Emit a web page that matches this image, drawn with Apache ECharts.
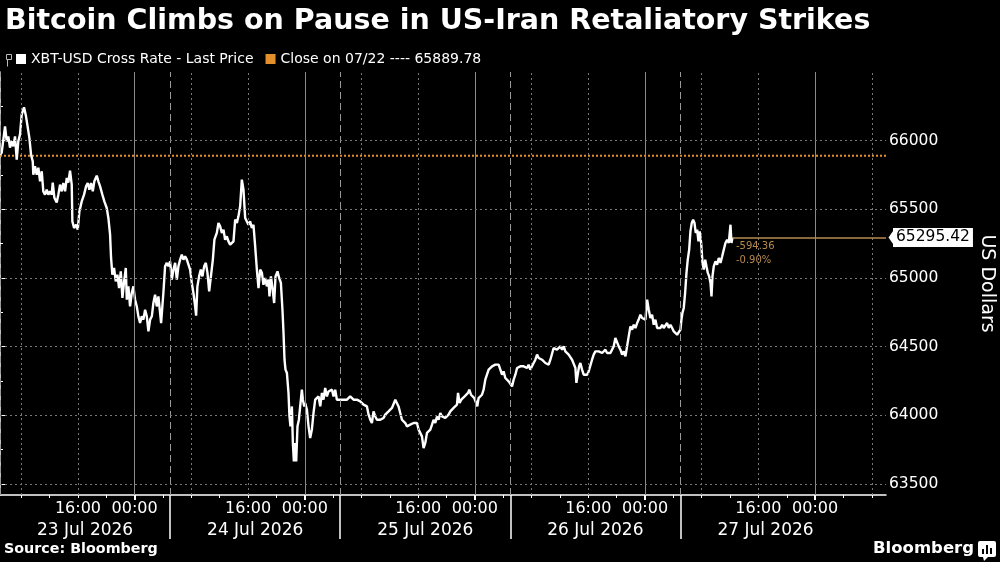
<!DOCTYPE html>
<html>
<head>
<meta charset="utf-8">
<script src="https://cdn.jsdelivr.net/npm/echarts@6/dist/echarts.min.js"></script>
<style>
  html, body { margin: 0; padding: 0; background: #000; }
  #chart { width: 1000px; height: 562px; }
</style>
</head>
<body>
<div id="chart"></div>
<script>
// hours since 23 Jul 05:00 (time labels)
const hours = [
  0, 0.24, 0.71, 0.95, 1.17, 1.41, 1.65, 1.88, 2.12, 2.36,
  2.58, 2.82, 3.06, 3.39, 3.67, 3.85, 4.14, 4.38, 4.62, 4.70,
  4.94, 5.18, 5.41, 5.65, 5.89, 6.11, 6.35, 6.59, 6.82, 7.06,
  7.30, 7.44, 7.67, 8.00, 8.23, 8.47, 8.71, 8.94, 9.18, 9.42,
  9.64, 9.88, 10.12, 10.21, 10.45, 10.73, 10.97, 11.20, 11.53, 11.86,
  12.14, 12.38, 12.61, 12.85, 13.09, 13.31, 13.65, 13.88, 14.12, 14.44,
  14.72, 15.06, 15.29, 15.53, 15.67, 15.85, 16.09, 16.33, 16.56, 16.80,
  17.04, 17.27, 17.51, 17.75, 17.89, 18.11, 18.35, 18.59, 18.82, 19.06,
  19.30, 19.52, 19.76, 20.00, 20.23, 20.47, 20.71, 20.94, 21.18, 21.42,
  21.64, 21.88, 22.12, 22.35, 22.59, 22.73, 23.05, 23.29, 23.53, 23.76,
  24.00, 24.24, 24.47, 24.71, 24.95, 25.17, 25.41, 25.65, 25.88, 26.12,
  26.36, 26.58, 26.82, 27.06, 27.29, 27.53, 27.67, 27.85, 28.09, 28.33,
  28.56, 28.80, 29.04, 29.27, 29.51, 29.79, 30.03, 30.25, 30.59, 30.82,
  31.06, 31.30, 31.53, 31.76, 32.00, 32.23, 32.47, 32.71, 32.94, 33.18,
  33.42, 33.64, 33.88, 34.12, 34.35, 34.59, 34.83, 35.05, 35.29, 35.53,
  35.76, 36.00, 36.24, 36.47, 36.71, 36.95, 37.17, 37.41, 37.65, 37.88,
  38.02, 38.22, 38.44, 38.68, 38.87, 39.15, 39.39, 39.63, 39.85, 40.00,
  40.14, 40.28, 40.48, 40.70, 40.84, 40.98, 41.18, 41.32, 41.46, 41.65,
  41.79, 41.97, 42.17, 42.35, 42.59, 42.73, 42.92, 43.06, 43.30, 43.53,
  43.76, 44.00, 44.23, 44.47, 44.71, 44.94, 45.18, 45.42, 45.64, 45.88,
  46.12, 46.35, 46.59, 46.83, 47.06, 47.29, 47.53, 47.76, 48.00, 48.24,
  48.47, 48.71, 48.95, 49.17, 49.41, 49.65, 49.88, 50.12, 50.36, 50.58,
  50.82, 51.06, 51.29, 51.53, 51.77, 52.00, 52.24, 52.47, 52.70, 52.94,
  53.18, 53.41, 53.65, 53.89, 54.11, 54.35, 54.59, 54.82, 55.06, 55.30,
  55.53, 55.77, 56.00, 56.23, 56.47, 56.71, 56.94, 57.18, 57.42, 57.64,
  57.88, 58.12, 58.35, 58.59, 58.83, 59.06, 59.29, 59.53, 59.76, 60.00,
  60.24, 60.47, 60.71, 60.95, 61.17, 61.41, 61.65, 61.88, 62.12, 62.36,
  62.58, 62.82, 63.06, 63.29, 63.53, 63.77, 64.00, 64.24, 64.47, 64.62,
  64.84, 65.08, 65.32, 65.55, 65.79, 66.03, 66.21, 66.45, 66.68, 66.92,
  67.16, 67.34, 67.52, 67.76, 68.00, 68.23, 68.47, 68.71, 68.94, 69.18,
  69.42, 69.64, 69.88, 70.12, 70.35, 70.59, 70.83, 71.05, 71.29, 71.53,
  71.76, 72.00, 72.24, 72.47, 72.71, 72.95, 73.17, 73.41, 73.65, 73.88,
  74.12, 74.36, 74.58, 74.82, 75.06, 75.29, 75.53, 75.77, 76.00, 76.24,
  76.47, 76.70, 76.94, 77.18, 77.41, 77.65, 77.89, 78.11, 78.35, 78.59,
  78.82, 79.06, 79.30, 79.53, 79.76, 80.00, 80.23, 80.47, 80.71, 80.94,
  81.18, 81.32, 81.50, 81.70, 81.88, 82.12, 82.35, 82.59, 82.83, 83.05,
  83.29, 83.53, 83.76, 84.00, 84.24, 84.47, 84.71, 84.95, 85.17, 85.41,
  85.65, 85.88, 86.12, 86.36, 86.58, 86.82, 87.06, 87.29, 87.53, 87.77,
  88.00, 88.24, 88.47, 88.70, 88.94, 89.18, 89.41, 89.65, 89.89, 90.11,
  90.35, 90.59, 90.82, 91.06, 91.30, 91.53, 91.76, 92.00, 92.23, 92.47,
  92.71, 92.94, 93.18, 93.42, 93.64, 93.88, 94.12, 94.35, 94.59, 94.83,
  95.06, 95.29, 95.53, 95.76, 96.00, 96.14, 96.28, 96.47, 96.66, 96.85,
  97.03, 97.23, 97.41, 97.60, 97.79, 97.98, 98.16, 98.36, 98.54, 98.72,
  98.92, 99.11, 99.29, 99.49, 99.67, 99.86, 100.05, 100.24, 100.38, 100.52,
  100.70, 100.94, 101.18, 101.41, 101.65, 101.89, 102.11, 102.35, 102.59, 102.82,
  103.06, 103.20, 103.34
];
const prices = [
  65898, 65913, 66104, 65995, 66031, 65949, 65995, 65959, 66031, 65862,
  65995, 66044, 66189, 66243, 66177, 66168, 66022, 65898, 65849, 65752,
  65813, 65752, 65803, 65704, 65777, 65631, 65607, 65643, 65607, 65631,
  65607, 65694, 65585, 65549, 65607, 65680, 65631, 65692, 65631, 65728,
  65694, 65782, 65680, 65412, 65364, 65388, 65352, 65485, 65558, 65607,
  65667, 65692, 65643, 65692, 65631, 65704, 65745, 65704, 65667, 65607,
  65558, 65510, 65437, 65316, 65146, 65024, 65073, 64975, 65024, 64927,
  65048, 64855, 64975, 65073, 64842, 64939, 64793, 64891, 64939, 64842,
  64793, 64721, 64672, 64721, 64697, 64769, 64721, 64611, 64697, 64721,
  64818, 64879, 64793, 64866, 64745, 64672, 64891, 65085, 65110, 65085,
  65121, 64988, 65061, 65110, 64988, 65085, 65134, 65170, 65134, 65158,
  65134, 65146, 65061, 64964, 64891, 64793, 64726, 64939, 65012, 65061,
  65012, 65085, 65110, 65037, 64903, 64915, 65134, 65279, 65328, 65401,
  65376, 65328, 65352, 65279, 65303, 65267, 65243, 65255, 65267, 65425,
  65401, 65449, 65522, 65716, 65643, 65437, 65449, 65388, 65412, 65364,
  65388, 65230, 65061, 64927, 65061, 65037, 64951, 65000, 64939, 64988,
  64866, 65012, 64927, 64818, 65012, 65048, 65000, 64964, 64769, 64600,
  64405, 64333, 64308, 64163, 63992, 63920, 64065, 63799, 63665, 63799,
  63665, 63920, 63968, 64065, 64187, 64114, 64065, 64090, 64041, 63920,
  63835, 63896, 64017, 64114, 64114, 64138, 64065, 64163, 64114, 64199,
  64138, 64174, 64163, 64187, 64138, 64187, 64114, 64126, 64114, 64102,
  64114, 64126, 64114, 64126, 64138, 64150, 64114, 64126, 64114, 64114,
  64102, 64090, 64078, 64090, 64065, 64005, 63968, 63944, 64029, 63992,
  63968, 63956, 63968, 63956, 63981, 64005, 63992, 64029, 64017, 64054,
  64041, 64114, 64102, 64065, 64017, 63968, 63981, 63944, 63920, 63908,
  63932, 63944, 63944, 63932, 63944, 63896, 63883, 63847, 63762, 63799,
  63872, 63859, 63896, 63932, 63968, 63944, 63992, 63968, 64017, 63992,
  64005, 63981, 63992, 64005, 64029, 64041, 64054, 64065, 64078, 64163,
  64090, 64114, 64102, 64138, 64150, 64163, 64187, 64150, 64138, 64126,
  64114, 64065, 64126, 64138, 64150, 64187, 64260, 64260, 64333, 64345,
  64357, 64345, 64369, 64357, 64369, 64333, 64296, 64320, 64272, 64284,
  64247, 64260, 64211, 64260, 64296, 64345, 64333, 64357, 64345, 64357,
  64369, 64345, 64369, 64333, 64357, 64381, 64405, 64442, 64418, 64429,
  64405, 64418, 64381, 64393, 64369, 64405, 64418, 64490, 64502, 64478,
  64490, 64502, 64478, 64502, 64466, 64454, 64442, 64429, 64405, 64393,
  64345, 64236, 64296, 64357, 64381, 64333, 64296, 64284, 64296, 64320,
  64333, 64405, 64442, 64466, 64478, 64466, 64478, 64454, 64466, 64478,
  64454, 64442, 64454, 64466, 64502, 64563, 64551, 64502, 64478, 64442,
  64466, 64429, 64502, 64575, 64648, 64624, 64660, 64636, 64672, 64697,
  64733, 64709, 64721, 64697, 64842, 64769, 64709, 64733, 64660, 64697,
  64636, 64648, 64636, 64660, 64636, 64648, 64672, 64636, 64660, 64636,
  64611, 64600, 64587, 64600, 64624, 64697, 64745, 64782, 64891, 65037,
  65134, 65206, 65340, 65401, 65425, 65401, 65328, 65352, 65267, 65340,
  65255, 65110, 65061, 65134, 65085, 65037, 65012, 64964, 64866, 65012,
  65085, 65121, 65097, 65146, 65110, 65158, 65206, 65255, 65279, 65255,
  65388, 65255, 65295.42
];

const seriesName = "XBT-USD Cross Rate - Last Price";
const closeDate = "07/22";
const closeValue = 65889.78;

const startClockHour = 5;
const dayStarts = [0, 24, 48, 72, 96];
const dayCenters = [12, 36, 60, 84, 108];
const dayLabels = ["23 Jul 2026", "24 Jul 2026", "25 Jul 2026", "26 Jul 2026", "27 Jul 2026"];
const timeLabelHours = [11, 19, 35, 43, 59, 67, 83, 91, 107, 115];
const midnightHours = [19, 43, 67, 91, 115];
const gridHours = [3, 11, 27, 35, 51, 59, 75, 83, 99, 107, 123];
const tickHours = [3, 7, 11, 15, 19, 23, 27, 31, 35, 39, 43, 47, 51, 55, 59, 63, 67, 71, 75, 79, 83, 87, 91, 95, 99, 103, 107, 111, 115, 119, 123];
const priceLevels = [63500, 64000, 64500, 65000, 65500, 66000];
const minorLevels = [63750, 64250, 64750, 65250, 65750, 66250];

const xMin = 0, xMax = 125;
const yMin = 63420, yMax = 66500;

const FONT = "DejaVu Sans";
const ORANGE = "#e3902c";
const TAN = "#b88a50";

const lastHour = hours[hours.length - 1];
const lastPrice = prices[prices.length - 1];
const change = lastPrice - closeValue;
const changePct = change / closeValue * 100;
const closeName = `Close on ${closeDate} ---- ${closeValue.toFixed(2)}`;

const chart = echarts.init(document.getElementById("chart"));

const gridLines = [];
gridHours.forEach((h) => gridLines.push({ xAxis: h, lineStyle: { color: "#777", type: [2, 3], width: 1 } }));
midnightHours.forEach((h) => gridLines.push({ xAxis: h, lineStyle: { color: "#8a8a8a", type: "solid", width: 1 } }));
dayStarts.forEach((h) => gridLines.push({ xAxis: h, lineStyle: { color: "#999", type: [7, 4], width: 1 } }));
priceLevels.forEach((v) => gridLines.push({ yAxis: v, lineStyle: { color: "#777", type: [2, 3], width: 1 } }));

const option = {
  backgroundColor: "#000",
  animation: false,
  textStyle: { fontFamily: FONT },
  title: {
    text: "Bitcoin Climbs on Pause in US-Iran Retaliatory Strikes",
    left: 0,
    top: 2,
    textStyle: { color: "#fff", fontSize: 28.5, fontWeight: "bold", fontFamily: FONT },
  },
  legend: {
    left: 16,
    top: 52,
    padding: 0,
    icon: "rect",
    itemWidth: 10,
    itemHeight: 10,
    itemGap: 12,
    textStyle: { color: "#fff", fontSize: 14, fontFamily: FONT },
    data: [
      { name: seriesName, itemStyle: { color: "#fff" } },
      { name: closeName, itemStyle: { color: ORANGE } },
    ],
  },
  grid: { left: 0, right: 114, top: 72, bottom: 67, outerBoundsMode: "none", containLabel: false },
  xAxis: [
    {
      type: "value",
      min: xMin,
      max: xMax,
      position: "bottom",
      axisLine: { lineStyle: { color: "#fff", width: 1.5 } },
      axisTick: { customValues: tickHours, length: 3, lineStyle: { color: "#fff" } },
      axisLabel: {
        customValues: timeLabelHours,
        margin: 6,
        color: "#fff",
        fontSize: 16,
        formatter: (v) => String((v + startClockHour) % 24).padStart(2, "0") + ":00",
      },
      splitLine: { show: false },
    },
    {
      type: "value",
      min: xMin,
      max: xMax,
      position: "bottom",
      axisLine: { show: false },
      axisTick: { customValues: midnightHours, length: 5, lineStyle: { color: "#fff", width: 2 } },
      axisLabel: { show: false },
      splitLine: { show: false },
    },
    {
      type: "value",
      min: xMin,
      max: xMax,
      position: "bottom",
      axisLine: { show: false },
      axisTick: { customValues: dayStarts.slice(1), length: 44, lineStyle: { color: "#fff", width: 1.5 } },
      axisLabel: {
        customValues: dayCenters,
        margin: 27,
        color: "#fff",
        fontSize: 17,
        formatter: (v) => dayLabels[dayCenters.indexOf(v)],
      },
      splitLine: { show: false },
    },
  ],
  yAxis: [
    {
      type: "value",
      min: yMin,
      max: yMax,
      position: "right",
      name: "US Dollars",
      nameLocation: "middle",
      nameRotate: -90,
      nameGap: 91,
      nameTextStyle: { color: "#fff", fontSize: 19, fontFamily: FONT },
      axisLine: { show: true, lineStyle: { color: "#fff", width: 1.5 } },
      axisTick: { show: true, customValues: priceLevels, length: 5, lineStyle: { color: "#fff" } },
      axisLabel: {
        customValues: priceLevels,
        margin: 3,
        color: "#fff",
        fontSize: 15.5,
        formatter: (v) => String(v),
      },
      splitLine: { show: false },
    },
    {
      type: "value",
      min: yMin,
      max: yMax,
      position: "right",
      axisLine: { show: false },
      axisTick: { show: true, customValues: minorLevels, length: 3, lineStyle: { color: "#fff" } },
      axisLabel: { show: false },
      splitLine: { show: false },
    },
  ],
  series: [
    {
      name: closeName,
      type: "line",
      z: 1,
      color: ORANGE,
      showSymbol: false,
      silent: true,
      data: [[xMin, closeValue], [xMax, closeValue]],
      lineStyle: { color: ORANGE, width: 2, type: [2, 2] },
      markLine: {
        silent: true,
        symbol: ["none", "none"],
        label: { show: false },
        data: gridLines,
      },
    },
    {
      name: seriesName,
      type: "line",
      z: 3,
      color: "#fff",
      showSymbol: false,
      data: hours.map((h, i) => [h, prices[i]]),
      lineStyle: { color: "#fff", width: 2.4 },
      markLine: {
        silent: true,
        symbol: ["none", "none"],
        data: [
          [
            { coord: [lastHour, lastPrice] },
            { coord: [xMax, lastPrice] },
          ],
        ],
        lineStyle: { color: TAN, width: 1.5, type: "solid" },
        label: {
          show: true,
          position: "end",
          distance: 7,
          formatter: lastPrice.toFixed(2),
          backgroundColor: "#fff",
          color: "#000",
          fontSize: 15.5,
          fontFamily: FONT,
          padding: [2, 3, 1, 3],
        },
      },
      markPoint: {
        silent: true,
        data: [
          {
            coord: [lastHour, lastPrice],
            symbol: "circle",
            symbolSize: 1,
            itemStyle: { color: "transparent" },
            label: {
              show: true,
              position: [4, 2],
              align: "left",
              verticalAlign: "top",
              color: TAN,
              fontSize: 10,
              lineHeight: 14,
              fontFamily: FONT,
              formatter: change.toFixed(2) + "\n" + changePct.toFixed(2) + "%",
            },
          },
          {
            coord: [xMax, lastPrice],
            symbol: "triangle",
            symbolRotate: 90,
            symbolSize: [20, 7],
            symbolOffset: [6, 0],
            itemStyle: { color: "#fff" },
            label: { show: false },
          },
        ],
      },
    },
  ],
  graphic: [
    {
      type: "group",
      left: 4,
      top: 52,
      children: [
        { type: "rect", shape: { x: 0, y: 0, width: 5, height: 5 }, style: { fill: "none", stroke: "#bbb", lineWidth: 1 } },
        { type: "line", shape: { x1: 1, y1: 5, x2: 1, y2: 12 }, style: { stroke: "#bbb", lineWidth: 1 } },
      ],
    },
    {
      type: "text",
      left: 4,
      top: 542,
      style: { text: "Source: Bloomberg", fill: "#fff", font: `bold 14.3px "${FONT}"` },
    },
    {
      type: "text",
      left: 873,
      top: 540,
      style: { text: "Bloomberg", fill: "#fff", font: `bold 16.5px "${FONT}"` },
    },
    {
      type: "group",
      left: 978,
      top: 541,
      children: [
        { type: "rect", shape: { x: 0, y: 0, width: 18, height: 16, r: 2 }, style: { fill: "#fff" } },
        { type: "polygon", shape: { points: [[5, 16], [10, 16], [6, 20]] }, style: { fill: "#fff" } },
        { type: "rect", shape: { x: 4, y: 8, width: 2, height: 5 }, style: { fill: "#000" } },
        { type: "rect", shape: { x: 8, y: 4, width: 2, height: 9 }, style: { fill: "#000" } },
        { type: "rect", shape: { x: 12, y: 7, width: 2, height: 6 }, style: { fill: "#000" } },
      ],
    },
  ],
};

chart.setOption(option);
</script>
</body>
</html>
